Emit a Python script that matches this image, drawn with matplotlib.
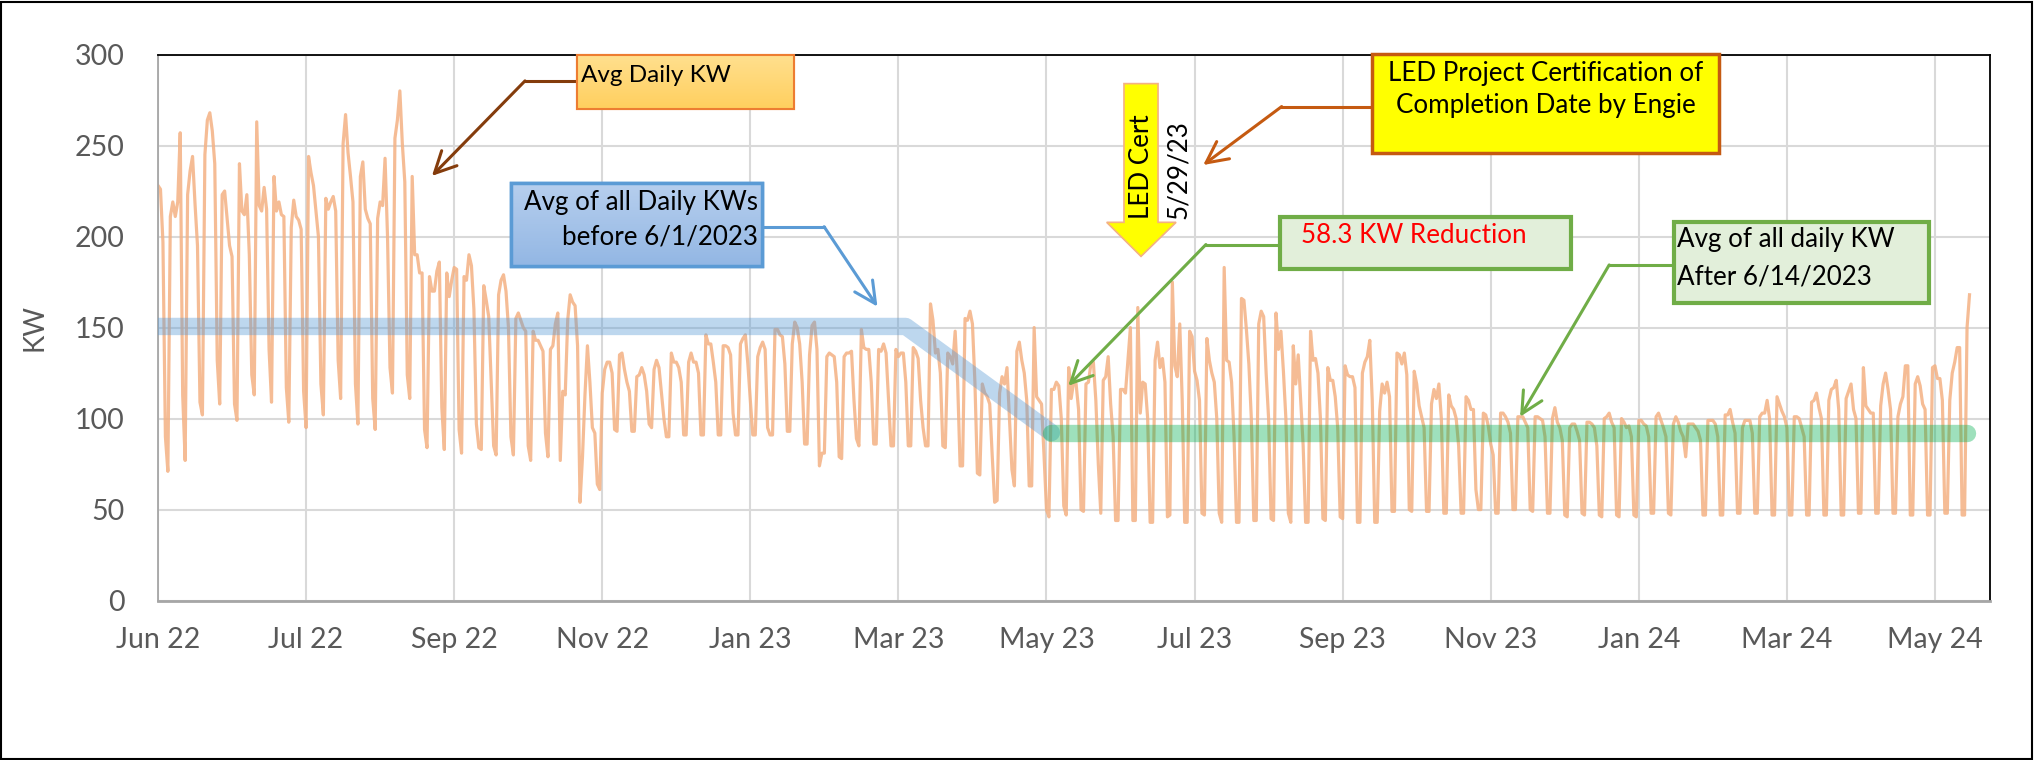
import numpy as np
import pandas as pd
import matplotlib
matplotlib.use('Agg')
import matplotlib.pyplot as plt
from matplotlib.patches import Rectangle, Polygon

plt.rcParams['font.family'] = ['Lato', 'DejaVu Sans']

start = '2022-06-01'

# daily KW, one row per week Mon..Sun (first row starts Wed 6/1/22)
kw_jun_aug22 = [228, 226, 197, 90, 71,
                211, 219, 211, 219, 257, 113, 77,
                223, 236, 244, 218, 195, 109, 102,
                245, 264, 268, 258, 240, 132, 108,
                223, 225, 210, 195, 189, 108, 99,
                240, 214, 212, 223, 190, 124, 113,
                263, 217, 214, 227, 215, 138, 109,
                233, 214, 219, 212, 211, 117, 98,
                205, 220, 211, 209, 204, 115, 95,
                244, 235, 228, 214, 200, 119, 102,
                221, 215, 219, 222, 214, 132, 111,
                251, 267, 246, 233, 219, 119, 97,
                233, 241, 215, 210, 207, 111, 94]
kw_aug_nov22 = [210, 219, 217, 243, 200, 128, 114,
                254, 264, 280, 251, 230, 124, 111,
                233, 190, 190, 180, 180, 94, 84,
                178, 170, 170, 181, 186, 106, 83,
                180, 167, 176, 183, 182, 94, 81,
                178, 176, 190, 184, 160, 97, 84,
                83, 173, 165, 156, 120, 85, 80,
                168, 176, 179, 170, 150, 90, 80,
                155, 158, 154, 150, 148, 85, 77,
                148, 143, 143, 140, 137, 92, 79,
                138, 140, 152, 158, 77, 115, 113,
                154, 168, 164, 162, 140, 54, 79,
                113, 140, 120, 95, 92, 64, 61]
kw_nov22_feb23 = [114, 127, 131, 131, 125, 94, 93,
                  135, 136, 127, 120, 115, 93, 93,
                  123, 124, 128, 124, 115, 97, 95,
                  127, 132, 128, 114, 100, 90, 90,
                  136, 131, 131, 128, 120, 91, 91,
                  131, 136, 131, 131, 125, 91, 91,
                  146, 141, 141, 131, 120, 91, 91,
                  140, 140, 139, 135, 103, 91, 91,
                  141, 144, 146, 130, 110, 91, 91,
                  134, 139, 142, 138, 95, 91, 91,
                  149, 149, 146, 145, 130, 93, 93,
                  141, 153, 150, 141, 120, 86, 86,
                  135, 151, 153, 138, 74, 81, 81]
kw_feb_may23 = [134, 136, 135, 134, 120, 79, 78,
                134, 136, 136, 137, 110, 89, 85,
                149, 139, 138, 138, 120, 86, 86,
                138, 137, 141, 136, 110, 85, 85,
                138, 134, 136, 136, 120, 85, 85,
                139, 137, 133, 110, 95, 85, 85,
                163, 154, 136, 138, 125, 85, 84,
                136, 134, 130, 148, 120, 74, 74,
                155, 154, 159, 152, 120, 70, 69,
                119, 114, 112, 108, 80, 54, 55,
                114, 123, 119, 128, 100, 72, 63,
                137, 142, 132, 125, 110, 63, 63,
                150, 112, 110, 108, 80, 50, 46]
kw_may_aug23 = [116, 116, 120, 118, 100, 52, 47,
                128, 111, 120, 119, 105, 50, 49,
                119, 120, 130, 131, 110, 75, 48,
                121, 123, 134, 108, 90, 44, 44,
                116, 116, 114, 132, 150, 44, 44,
                161, 103, 120, 119, 100, 43, 43,
                132, 142, 128, 133, 120, 46, 47,
                175, 129, 123, 152, 110, 43, 43,
                148, 145, 126, 121, 110, 48, 47,
                144, 132, 125, 120, 100, 48, 43,
                183, 132, 131, 120, 90, 43, 43,
                166, 165, 149, 130, 100, 44, 44,
                152, 159, 156, 125, 100, 45, 44]
kw_aug_nov23 = [158, 138, 148, 126, 100, 48, 43,
                140, 119, 135, 110, 85, 43, 43,
                148, 132, 133, 125, 100, 45, 44,
                128, 121, 121, 112, 95, 46, 45,
                129, 124, 123, 123, 117, 43, 43,
                125, 131, 134, 143, 110, 43, 43,
                104, 119, 114, 120, 112, 49, 49,
                136, 135, 130, 136, 124, 50, 49,
                126, 119, 107, 101, 95, 49, 49,
                108, 116, 111, 119, 100, 48, 48,
                113, 107, 105, 100, 85, 48, 48,
                112, 110, 105, 105, 61, 50, 50,
                103, 102, 96, 86, 80, 48, 48]
kw_nov23_feb24 = [103, 103, 101, 98, 92, 50, 50,
                  101, 101, 101, 98, 95, 50, 49,
                  101, 101, 100, 99, 90, 48, 48,
                  100, 106, 98, 95, 88, 47, 46,
                  95, 97, 97, 93, 88, 48, 47,
                  98, 98, 97, 95, 85, 47, 46,
                  100, 101, 103, 98, 95, 47, 46,
                  100, 98, 95, 96, 90, 47, 46,
                  99, 99, 97, 96, 90, 48, 48,
                  101, 103, 99, 95, 90, 48, 47,
                  97, 101, 98, 93, 90, 79, 97,
                  97, 97, 95, 93, 88, 47, 47,
                  99, 99, 99, 97, 90, 47, 47]
kw_feb_jun24 = [102, 102, 105, 98, 92, 48, 48,
                95, 99, 99, 99, 92, 48, 48,
                101, 103, 103, 110, 100, 47, 47,
                112, 108, 104, 101, 95, 47, 47,
                101, 101, 100, 95, 90, 47, 47,
                109, 110, 114, 106, 100, 47, 47,
                110, 116, 117, 121, 105, 47, 47,
                111, 115, 119, 105, 100, 48, 48,
                128, 107, 105, 103, 103, 48, 48,
                107, 119, 125, 116, 105, 48, 48,
                101, 108, 112, 129, 129, 47, 47,
                119, 123, 118, 108, 105, 47, 47,
                128, 129, 122, 122, 110, 48, 48,
                110, 125, 131, 139, 139, 47, 47,
                150, 168]

kw = np.array(kw_jun_aug22 + kw_aug_nov22 + kw_nov22_feb23 + kw_feb_may23 +
              kw_may_aug23 + kw_aug_nov23 + kw_nov23_feb24 + kw_feb_jun24)
days = np.arange(len(kw))

# average lines (before / after LED project)
avg_before_x = [0, 303, 362]
avg_before_y = [150.6, 150.6, 92.3]
avg_after_x = [362, 733]
avg_after_y = [92.3, 92.3]

tick_days = np.arange(0, 721, 60)
tick_labels = (pd.Timestamp(start) + pd.to_timedelta(tick_days, unit='D')).strftime('%b %y')

fig = plt.figure(figsize=(20.34, 7.6), dpi=100)
ax = fig.add_axes([158/2034, 1-600.6/760, (1990-158)/2034, (600.6-54.5)/760])

ax.plot(avg_before_x, avg_before_y, color='#5B9BD5', alpha=0.4, lw=12.5,
        solid_capstyle='round', solid_joinstyle='round', zorder=3)
ax.plot(avg_after_x, avg_after_y, color='#00B050', alpha=0.38, lw=12.5,
        solid_capstyle='round', zorder=3)
ax.plot(days, kw, color='#F4B183', lw=2.3, alpha=0.85, zorder=2)

ax.set_xlim(0, 742.3)
ax.set_ylim(0, 300)
ax.set_xticks(tick_days)
ax.set_xticklabels(tick_labels)
ax.set_yticks(np.arange(0, 301, 50))
ax.grid(True, color='#D9D9D9', lw=1.5)
ax.set_axisbelow(True)
ax.tick_params(length=0, labelsize=20.5, colors='#595959')
ax.tick_params(axis='x', pad=19)
ax.tick_params(axis='y', pad=24)
ax.set_ylabel('KW', fontsize=20, color='#595959', labelpad=20)
for s in ['top', 'right']:
    ax.spines[s].set_color('black')
    ax.spines[s].set_linewidth(1.3)
ax.spines['left'].set_color('#A6A6A6')
ax.spines['left'].set_linewidth(1.3)
ax.spines['bottom'].set_color('#A6A6A6')
ax.spines['bottom'].set_linewidth(2)

fs = 18.7


def box(x0, y0, x1, y1, fc, ec, lw=2.5, grad=None):
    ax.add_patch(Rectangle((x0, y0), x1 - x0, y1 - y0, facecolor=fc, edgecolor=ec,
                           lw=lw, zorder=6, clip_on=False))
    if grad is not None:
        g = np.linspace(0, 1, 64)[:, None, None]
        c0 = np.array(matplotlib.colors.to_rgb(grad[0]))
        c1 = np.array(matplotlib.colors.to_rgb(grad[1]))
        img = c0 * (1 - g) + c1 * g
        ax.imshow(img, extent=(x0, x1, y0, y1), origin='upper', aspect='auto',
                  zorder=6.1, clip_on=False)
        ax.add_patch(Rectangle((x0, y0), x1 - x0, y1 - y0, fill=False, edgecolor=ec,
                               lw=lw, zorder=6.2, clip_on=False))


def leader(pts, color):
    ax.plot([pts[0][0], pts[1][0]], [pts[0][1], pts[1][1]], color=color, lw=2.2,
            zorder=5, clip_on=False)
    ax.annotate('', xy=pts[2], xytext=pts[1],
                arrowprops=dict(arrowstyle='->,head_length=0.7,head_width=0.35',
                                color=color, lw=2.2, shrinkA=0, shrinkB=0,
                                mutation_scale=22), zorder=5)


# Avg Daily KW
leader([(169.8, 285.5), (148.7, 285.5), (111, 233.3)], '#843C0C')
box(169.8, 270.1, 257.7, 300, '#FFD77A', '#ED7D31', 1.5, grad=('#FFE08F', '#FFCF5E'))
ax.text(171.5, 294, 'Avg Daily KW', fontsize=17.5, ha='left', va='top', zorder=7)

# Avg before
leader([(244.7, 205.4), (269.9, 205.4), (291.5, 161.5)], '#5B9BD5')
box(143, 183.8, 244.7, 229.4, '#A9C6EA', '#5B9BD5', 2.5, grad=('#B7CFEE', '#93B7E4'))
ax.text(243.1, 218.5, 'Avg of all Daily KWs', fontsize=fs, ha='right', va='center', zorder=7)
ax.text(243.1, 199.8, 'before 6/1/2023', fontsize=fs, ha='right', va='center', zorder=7)

# LED cert arrow
ax.add_patch(Polygon([(391.4, 284), (405.2, 284), (405.2, 207.8), (412.5, 207.8),
                      (398.3, 189.1), (384.4, 207.8), (391.4, 207.8)], closed=True,
                     facecolor='#FFFF00', edgecolor='#F4B183', lw=1.2, zorder=6))
ax.text(398.5, 209.4, 'LED Cert', rotation=90, fontsize=fs, ha='center', va='bottom', zorder=7)
ax.text(413.4, 209.4, '5/29/23', rotation=90, fontsize=fs, ha='center', va='bottom', zorder=7)

# LED project certification
leader([(491.9, 271.4), (455.3, 271.4), (423.5, 239.3)], '#C55A11')
box(491.9, 245.9, 632.5, 300, '#FFFF00', '#C55A11', 2.5)
ax.text(562.2, 289.3, 'LED Project Certification of', fontsize=fs, ha='center', va='center', zorder=7)
ax.text(562.2, 271.8, 'Completion Date by Engie', fontsize=fs, ha='center', va='center', zorder=7)

# reduction
leader([(454.6, 195.6), (424.6, 195.6), (368.8, 118)], '#70AD47')
box(454.6, 182.2, 572.5, 210.8, '#E2EFDA', '#70AD47', 3)
ax.text(463.2, 200.3, '58.3 KW Reduction', fontsize=fs, color='#FF0000', ha='left', va='center', zorder=7)

# avg after
leader([(614.3, 184.4), (588, 184.4), (551.9, 101)], '#70AD47')
box(614.3, 163.5, 717.6, 208, '#E2EFDA', '#70AD47', 3)
ax.text(615.3, 198.1, 'Avg of all daily KW', fontsize=fs, ha='left', va='center', zorder=7)
ax.text(615.3, 178, 'After 6/14/2023', fontsize=fs, ha='left', va='center', zorder=7)

fig.patches.append(Rectangle((0.0005, 0.001), 0.9985, 0.997, transform=fig.transFigure,
                             fill=False, edgecolor='black', lw=1.5))

fig.savefig('out.png', dpi=100)
